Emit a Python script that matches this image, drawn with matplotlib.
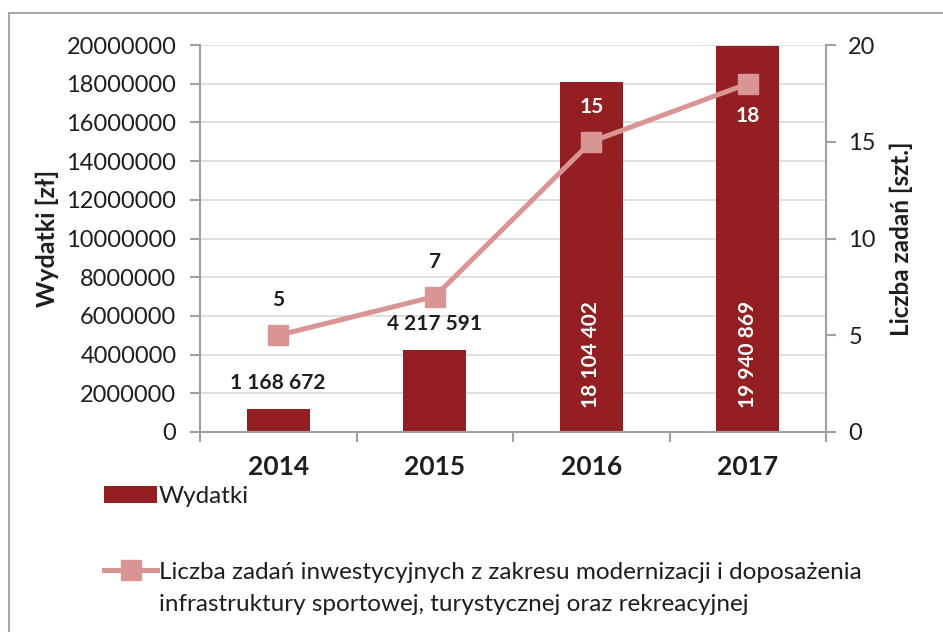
import matplotlib.pyplot as plt
from matplotlib.lines import Line2D
from matplotlib.patches import Patch

plt.rcParams['font.family'] = ['Lato', 'DejaVu Sans']

years = ['2014', '2015', '2016', '2017']
wydatki = [1168672, 4217591, 18104402, 19940869]
zadania = [5, 7, 15, 18]
wydatki_labels = ['1 168 672', '4 217 591', '18 104 402', '19 940 869']

bar_color = '#941F22'
line_color = '#D99594'
grid_color = '#D9D9D9'
axis_color = '#A0A0A0'
text_color = '#1E1E1E'

W, H = 943, 632
fig = plt.figure(figsize=(W / 100, H / 100), dpi=100)
ax = fig.add_axes([200 / W, 1 - 432 / H, (826 - 200) / W, (432 - 45) / H])
ax2 = ax.twinx()

x = list(range(len(years)))
ax.bar(x, wydatki, width=0.4, color=bar_color, zorder=2)
ax.set_xlim(-0.5, len(years) - 0.5)
ax.set_ylim(0, 20000000)
ax.set_yticks(range(0, 20000001, 2000000))
ax.set_yticklabels([str(v) for v in range(0, 20000001, 2000000)])
ax.yaxis.grid(True, color=grid_color, linewidth=1.2, zorder=0)
ax.set_axisbelow(True)

ax2.plot(x, zadania, color=line_color, linewidth=3.6, marker='s',
         markersize=14, zorder=3)
ax2.set_ylim(0, 20)
ax2.set_yticks([0, 5, 10, 15, 20])

# category ticks sit between the bars
ax.set_xticks([i - 0.5 for i in range(len(years) + 1)])
ax.set_xticklabels([])
for i, y in enumerate(years):
    ax.text(i, -0.06, y, transform=ax.get_xaxis_transform(), ha='center',
            va='top', fontsize=19, fontweight='bold', color=text_color)

for a in (ax, ax2):
    a.spines['top'].set_visible(False)
    for s in ('left', 'right', 'bottom'):
        a.spines[s].set_color(axis_color)
        a.spines[s].set_linewidth(1.5)
    a.tick_params(colors=axis_color, labelcolor=text_color, labelsize=17,
                  length=7, width=1.5)
ax.spines['right'].set_visible(False)
ax2.spines['left'].set_visible(False)
ax2.spines['bottom'].set_visible(False)
ax.tick_params(axis='y', pad=10)
ax2.tick_params(axis='y', pad=9)

ax.set_ylabel('Wydatki [zł]', fontsize=18, fontweight='bold',
              color=text_color, labelpad=5)
ax2.set_ylabel('Liczba zadań [szt.]', fontsize=17.5, fontweight='bold',
               color=text_color, labelpad=10)

# expense labels: above short bars, rotated inside tall ones
for i, (v, lab) in enumerate(zip(wydatki, wydatki_labels)):
    if v < 10000000:
        ax.annotate(lab, (i, v), xytext=(0, 12), textcoords='offset points',
                    ha='center', va='bottom', fontsize=15, fontweight='bold',
                    color=text_color)
    else:
        ax.annotate(lab, (i, 0), xytext=(0, 17), textcoords='offset points',
                    ha='center', va='bottom', rotation=90, fontsize=15,
                    fontweight='bold', color='white')

# task count labels
offsets = [(18, 'bottom', text_color), (18, 'bottom', text_color),
           (18, 'bottom', 'white'), (-16, 'top', 'white')]
for i, (n, (dy, va, c)) in enumerate(zip(zadania, offsets)):
    ax2.annotate(str(n), (i, n), xytext=(0, dy), textcoords='offset points',
                 ha='center', va=va, fontsize=15, fontweight='bold', color=c)

bar_handle = Patch(facecolor=bar_color, edgecolor='none')
line_handle = Line2D([], [], color=line_color, linewidth=3.6, marker='s',
                     markersize=14)
blank_handle = Line2D([], [], color='none')

fig.legend([bar_handle], ['Wydatki'], loc='upper left',
           bbox_to_anchor=(82 / W, 1 - 464 / H), frameon=False,
           fontsize=17.5, handlelength=2.2, handletextpad=0.05,
           labelcolor=text_color)
fig.legend([line_handle, blank_handle],
           ['Liczba zadań inwestycyjnych z zakresu modernizacji i doposażenia',
            'infrastruktury sportowej, turystycznej oraz rekreacyjnej'],
           loc='upper left', bbox_to_anchor=(82 / W, 1 - 540 / H),
           frameon=False, fontsize=17.5, handlelength=2.2,
           handletextpad=0.05, labelspacing=0.45, labelcolor=text_color)

# chart frame: top and left edges
fig.add_artist(Line2D([9 / W, 1], [1 - 13 / H, 1 - 13 / H],
                      color='#A6A6A6', linewidth=1.5))
fig.add_artist(Line2D([9 / W, 9 / W], [0, 1 - 13 / H],
                      color='#A6A6A6', linewidth=1.5))

fig.savefig('out.png', dpi=100)
